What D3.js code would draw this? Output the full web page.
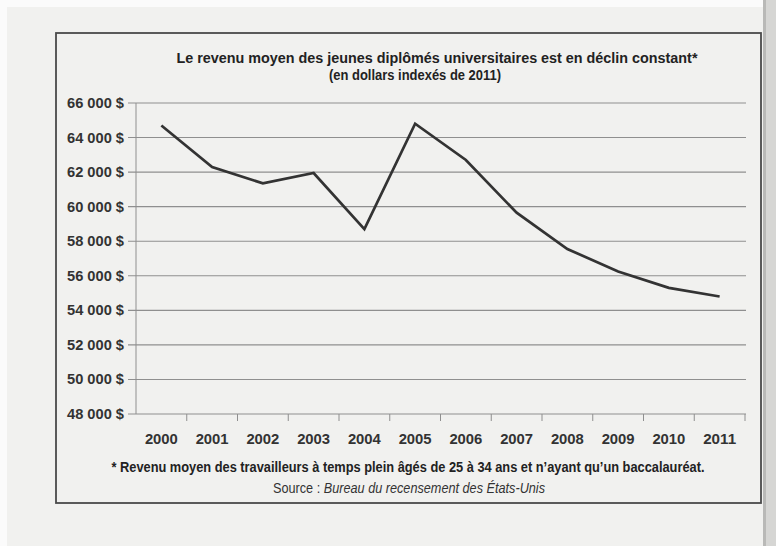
<!DOCTYPE html>
<html>
<head>
<meta charset="utf-8">
<script src="https://cdn.jsdelivr.net/npm/d3@7"></script>
<style>
  html, body { margin: 0; padding: 0; background: #f1f1ef; }
  svg { display: block; }
  .narrow { font-family: "Liberation Sans", Arial, Helvetica, sans-serif; }
</style>
</head>
<body>
<svg id="chart" width="776" height="546"></svg>
<script>
// data
const years = ["2000", "2001", "2002", "2003", "2004", "2005", "2006", "2007", "2008", "2009", "2010", "2011"];
const revenu = [64700, 62300, 61350, 61950, 58700, 64800, 62700, 59650, 57550, 56250, 55300, 54800];
const yTicks = [48000, 50000, 52000, 54000, 56000, 58000, 60000, 62000, 64000, 66000];

const titre1 = "Le revenu moyen des jeunes diplômés universitaires est en déclin constant*";
const titre2 = "(en dollars indexés de 2011)";
const note = "* Revenu moyen des travailleurs à temps plein âgés de 25 à 34 ans et n’ayant qu’un baccalauréat.";

const svg = d3.select("#chart");

// the scan: white margin top/left, grey page edge on the right
svg.append("rect").attr("width", 776).attr("height", 546).attr("fill", "#f1f1ef");
svg.append("rect").attr("width", 776).attr("height", 7).attr("fill", "#fbfbfb");
svg.append("rect").attr("width", 7).attr("height", 546).attr("fill", "#fbfbfb");
svg.append("rect").attr("x", 763).attr("width", 13).attr("height", 546).attr("fill", "#d6d6d4");
svg.append("rect").attr("x", 763).attr("width", 3).attr("height", 546).attr("fill", "#b9b9b7");

// frame
svg.append("rect")
    .attr("x", 56).attr("y", 33)
    .attr("width", 705).attr("height", 470)
    .attr("fill", "none")
    .attr("stroke", "#4a4a4a").attr("stroke-width", 1.8);

const x = d3.scaleBand().domain(years).range([136, 745]).padding(0);
const y = d3.scaleLinear().domain([48000, 66000]).range([414, 103]);

// gridlines
svg.append("g")
    .attr("stroke", "#8f8f8f").attr("stroke-width", 1.1)
  .selectAll("line")
  .data(yTicks)
  .join("line")
    .attr("x1", 128).attr("x2", 746)
    .attr("y1", d => y(d)).attr("y2", d => y(d));

// y axis line
svg.append("line")
    .attr("x1", 136).attr("x2", 136)
    .attr("y1", y(66000)).attr("y2", y(48000))
    .attr("stroke", "#8f8f8f");

// y labels (condensed look via textLength)
const fmt = d => d3.format(",")(d).replace(",", " ") + " $";
svg.append("g")
    .attr("class", "narrow")
  .selectAll("text")
  .data(yTicks)
  .join("text")
    .attr("x", 124).attr("y", d => y(d) + 5)
    .attr("text-anchor", "end")
    .attr("font-size", 14.5).attr("font-weight", "bold")
    .attr("fill", "#333")
    .attr("textLength", 57).attr("lengthAdjust", "spacingAndGlyphs")
    .text(fmt);

// x ticks at band edges
svg.append("g")
    .attr("stroke", "#8f8f8f")
  .selectAll("line")
  .data(years.slice(1).map(d => x(d)).concat([x.range()[1]]))
  .join("line")
    .attr("x1", d => d).attr("x2", d => d)
    .attr("y1", y(48000)).attr("y2", y(48000) + 7);

const xAxis = svg.append("g")
    .attr("transform", "translate(0," + y(48000) + ")")
    .call(d3.axisBottom(x).tickSize(0).tickPadding(19));
xAxis.select(".domain").remove();
xAxis.selectAll("text")
    .attr("class", "narrow")
    .attr("font-family", null)
    .attr("font-size", 15.5).attr("font-weight", "bold")
    .attr("fill", "#333")
    .attr("textLength", 33).attr("lengthAdjust", "spacingAndGlyphs");

// the line
const line = d3.line()
    .x((d, i) => x(years[i]) + x.bandwidth() / 2)
    .y(d => y(d));

svg.append("path")
    .datum(revenu)
    .attr("fill", "none")
    .attr("stroke", "#333")
    .attr("stroke-width", 2.7)
    .attr("d", line);

// titles
svg.append("text").attr("class", "narrow")
    .attr("x", 437).attr("y", 63)
    .attr("text-anchor", "middle")
    .attr("font-size", 14.5).attr("font-weight", "bold").attr("fill", "#222")
    .attr("textLength", 521).attr("lengthAdjust", "spacingAndGlyphs")
    .text(titre1);
svg.append("text").attr("class", "narrow")
    .attr("x", 415).attr("y", 80)
    .attr("text-anchor", "middle")
    .attr("font-size", 14.5).attr("font-weight", "bold").attr("fill", "#222")
    .attr("textLength", 172).attr("lengthAdjust", "spacingAndGlyphs")
    .text(titre2);

// footnote and source
svg.append("text").attr("class", "narrow")
    .attr("x", 408).attr("y", 472)
    .attr("text-anchor", "middle")
    .attr("font-size", 14).attr("font-weight", "bold").attr("fill", "#222")
    .attr("textLength", 593).attr("lengthAdjust", "spacingAndGlyphs")
    .text(note);
const src = svg.append("text").attr("class", "narrow")
    .attr("x", 409).attr("y", 493)
    .attr("text-anchor", "middle")
    .attr("font-size", 14).attr("fill", "#333")
    .attr("textLength", 272).attr("lengthAdjust", "spacingAndGlyphs");
src.append("tspan").text("Source : ");
src.append("tspan").attr("font-style", "italic").text("Bureau du recensement des États-Unis");
</script>
</body>
</html>
